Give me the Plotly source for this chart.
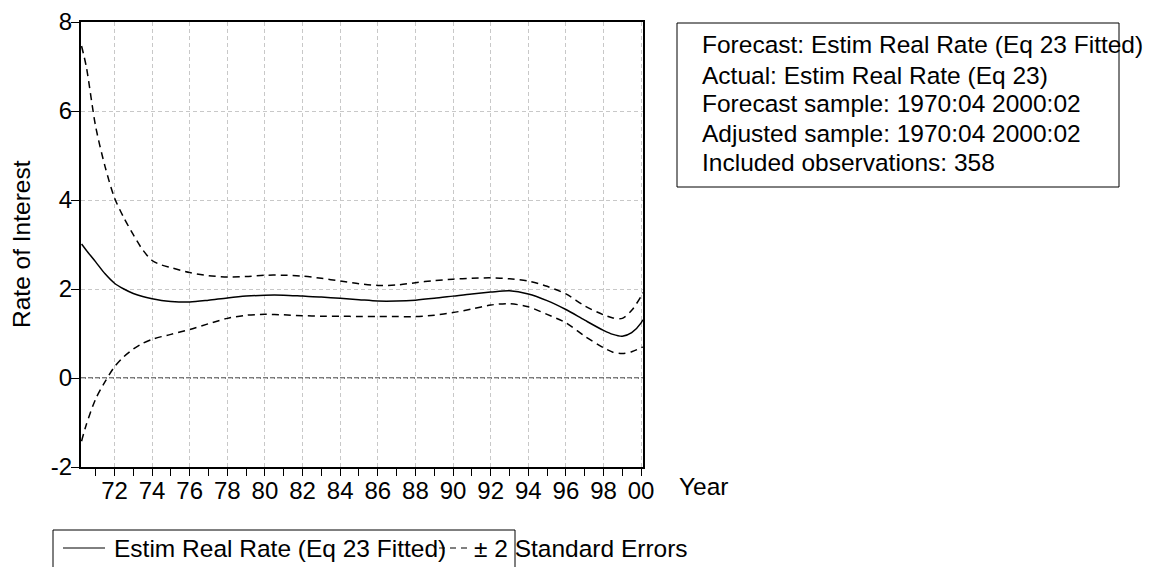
import plotly.graph_objects as go

# ---- data ----
t = [1970.25, 1970.5, 1971, 1971.5, 1972, 1972.5, 1973, 1973.5, 1974, 1974.5, 1975, 1976, 1977,
     1978, 1979, 1980, 1981, 1982, 1983, 1984, 1985, 1986, 1987, 1988, 1989, 1990,
     1991, 1992, 1993, 1994, 1995, 1996, 1997, 1998, 1998.5, 1999, 1999.5, 2000, 2000.083]
fitted = [3.01, 2.87, 2.61, 2.34, 2.13, 2.00, 1.90, 1.83, 1.78, 1.74, 1.72, 1.71, 1.75,
          1.80, 1.84, 1.86, 1.86, 1.84, 1.82, 1.79, 1.76, 1.73, 1.73, 1.75, 1.79, 1.84,
          1.89, 1.93, 1.96, 1.89, 1.74, 1.54, 1.30, 1.07, 0.98, 0.94, 1.02, 1.24, 1.31]
upper = [7.46, 7.00, 5.65, 4.75, 4.05, 3.60, 3.22, 2.88, 2.64, 2.54, 2.48, 2.37, 2.30,
         2.27, 2.28, 2.31, 2.31, 2.29, 2.24, 2.18, 2.12, 2.08, 2.09, 2.14, 2.19, 2.22,
         2.24, 2.25, 2.23, 2.18, 2.06, 1.89, 1.62, 1.42, 1.35, 1.34, 1.52, 1.84, 1.92]
lower = [-1.42, -1.05, -0.47, -0.08, 0.25, 0.48, 0.65, 0.78, 0.87, 0.93, 0.98, 1.09, 1.22,
         1.34, 1.41, 1.43, 1.42, 1.40, 1.39, 1.39, 1.38, 1.38, 1.38, 1.38, 1.41, 1.47,
         1.55, 1.64, 1.67, 1.60, 1.43, 1.24, 0.94, 0.68, 0.58, 0.55, 0.59, 0.68, 0.70]

x_tick_vals = [1972, 1974, 1976, 1978, 1980, 1982, 1984, 1986, 1988, 1990, 1992, 1994, 1996, 1998, 2000]
x_tick_text = ["72", "74", "76", "78", "80", "82", "84", "86", "88", "90", "92", "94", "96", "98", "00"]
x_minor_vals = [1971, 1973, 1975, 1977, 1979, 1981, 1983, 1985, 1987, 1989, 1991, 1993, 1995, 1997, 1999]
y_tick_vals = [-2, 0, 2, 4, 6, 8]
y_tick_text = ["-2", "0", "2", "4", "6", "8"]

info_lines = [
    "Forecast: Estim Real Rate (Eq 23 Fitted)",
    "Actual: Estim Real Rate (Eq 23)",
    "Forecast sample: 1970:04 2000:02",
    "Adjusted sample: 1970:04 2000:02",
    "Included observations: 358",
]
legend_solid = "Estim Real Rate (Eq 23 Fitted)"
legend_dash = "± 2 Standard Errors"

# ---- layout geometry (page pixels; the page body adds an 8px offset) ----
W, H = 1156, 567
OFF = 8
L, R, T, B = 81, 643, 22, 467
FONT = "Liberation Sans, Arial, Helvetica, sans-serif"
FS = 24.5
TFS = 24


def px(x):
    return (x - L) / (R - L)


def py(y):
    return (B - y) / (B - T)


fig = go.Figure()
band_line = dict(color="black", width=1.5, dash="7px,5px", shape="spline", smoothing=0.8)
fig.add_trace(go.Scatter(x=t, y=upper, mode="lines", line=band_line, showlegend=False, hoverinfo="skip"))
fig.add_trace(go.Scatter(x=t, y=lower, mode="lines", line=band_line, showlegend=False, hoverinfo="skip"))
fig.add_trace(go.Scatter(x=t, y=fitted, mode="lines",
                         line=dict(color="black", width=1.5, shape="spline", smoothing=0.8),
                         showlegend=False, hoverinfo="skip"))

shapes = []
# zero line
shapes.append(dict(type="line", xref="paper", yref="y", x0=0, x1=1, y0=0, y1=0,
                   line=dict(color="#505050", width=1.5, dash="5px,2px"), layer="below"))
# info box
shapes.append(dict(type="rect", xref="paper", yref="paper", x0=px(677), x1=px(1119), y0=py(187), y1=py(23),
                   line=dict(color="black", width=1)))
# legend box (bottom extends past figure)
shapes.append(dict(type="rect", xref="paper", yref="paper", x0=px(53), x1=px(515), y0=py(600), y1=py(530),
                   line=dict(color="black", width=1)))
# legend samples
shapes.append(dict(type="line", xref="paper", yref="paper", x0=px(63), x1=px(105), y0=py(548), y1=py(548),
                   line=dict(color="black", width=1)))
shapes.append(dict(type="line", xref="paper", yref="paper", x0=px(439), x1=px(470), y0=py(548), y1=py(548),
                   line=dict(color="black", width=1, dash="6px,5px")))

annotations = []
line_y = [45, 75, 104, 133, 162]
for txt, yy in zip(info_lines, line_y):
    annotations.append(dict(text=txt, xref="paper", yref="paper", x=px(700), y=py(yy), xanchor="left",
                            yanchor="middle", showarrow=False, font=dict(family=FONT, size=FS, color="black")))
annotations.append(dict(text=legend_solid, xref="paper", yref="paper", x=px(112), y=py(548), xanchor="left",
                        yanchor="middle", showarrow=False, font=dict(family=FONT, size=FS, color="black")))
annotations.append(dict(text=legend_dash, xref="paper", yref="paper", x=px(472), y=py(548), xanchor="left",
                        yanchor="middle", showarrow=False, font=dict(family=FONT, size=FS, color="black")))
annotations.append(dict(text="Rate of Interest", xref="paper", yref="paper", x=px(22), y=py(244), xanchor="center",
                        yanchor="middle", textangle=-90, showarrow=False, font=dict(family=FONT, size=FS, color="black")))
annotations.append(dict(text="Year", xref="paper", yref="paper", x=px(677), y=py(486), xanchor="left",
                        yanchor="middle", showarrow=False, font=dict(family=FONT, size=FS, color="black")))

fig.update_layout(
    width=W, height=H, autosize=False,
    margin=dict(l=L - OFF, r=W - (R - OFF), t=T - OFF, b=H - (B - OFF), pad=0, autoexpand=False),
    paper_bgcolor="white", plot_bgcolor="white",
    font=dict(family=FONT, size=FS, color="black"),
    shapes=shapes, annotations=annotations, showlegend=False,
    xaxis=dict(range=[1970.22, 2000.1], tickmode="array", tickvals=x_tick_vals, ticktext=x_tick_text,
               ticks="outside", ticklen=7, tickwidth=1, tickcolor="black", automargin=False,
               ticklabelstandoff=-6,
               showgrid=True, gridcolor="#c8c8c8", griddash="4px,3px", gridwidth=1,
               minor=dict(tickmode="array", tickvals=x_minor_vals, ticks="outside", ticklen=7,
                          tickwidth=1, tickcolor="black", showgrid=False),
               showline=True, linecolor="black", linewidth=2, mirror=True, zeroline=False,
               tickfont=dict(family=FONT, size=TFS, color="black")),
    yaxis=dict(range=[-2, 8], tickmode="array", tickvals=y_tick_vals, ticktext=y_tick_text,
               ticks="outside", ticklen=8, tickwidth=1, tickcolor="black", automargin=False,
               ticklabelstandoff=-6,
               showgrid=True, gridcolor="#c8c8c8", griddash="4px,3px", gridwidth=1,
               showline=True, linecolor="black", linewidth=2, mirror=True, zeroline=False,
               tickfont=dict(family=FONT, size=TFS, color="black")),
)

fig.write_html("out.html", config={"displayModeBar": False})
